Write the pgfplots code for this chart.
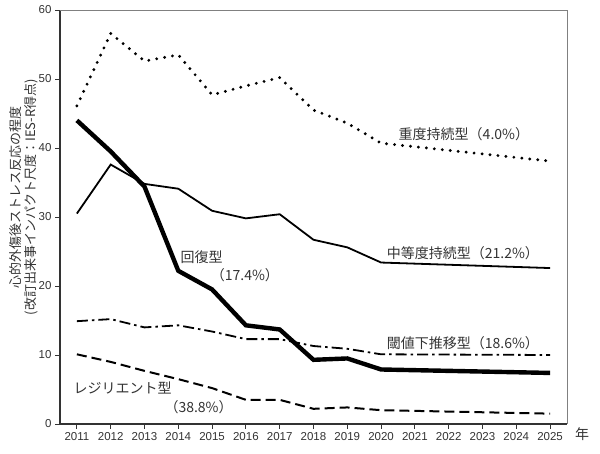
\documentclass[border=0pt]{standalone}
\usepackage{fontspec}
\setmainfont{Liberation Sans}
\newfontfamily\jp{Noto Sans CJK JP}
\usepackage{pgfplots}
\pgfplotsset{compat=1.18}
\definecolor{axgray}{HTML}{333333}
\definecolor{frgray}{HTML}{808080}
\begin{document}
\begin{tikzpicture}
\path[use as bounding box] (-60pt,-30pt) rectangle (540pt,424pt);
\begin{axis}[
  at={(0,0)}, anchor=south west,
  scale only axis, width=507pt, height=414pt,
  xmin=2010.5, xmax=2025.5, ymin=0, ymax=60,
  axis x line*=bottom, axis y line*=left,
  axis line style={axgray, line width=1.1pt},
  xtick={2011,2012,...,2025}, ytick={0,10,...,60},
  tick align=outside, major tick length=5pt,
  tick style={axgray, line width=0.9pt},
  /pgf/number format/.cd, 1000 sep={}, assume math mode=true, /pgfplots/.cd,
  tick label style={font=\fontsize{11.5}{13}\selectfont, text=axgray},
  ylabel={{\jp 心的外傷後ストレス反応の程度}\\{\jp (改訂出来事インパクト尺度：IES-R得点)}},
  ylabel style={at={(rel axis cs:-0.071,0.548)}, anchor=center, rotate=0, align=center,
    font=\fontsize{13}{15.5}\selectfont, text=axgray},
  clip=false,
]
\draw[frgray, line width=0.8pt] (rel axis cs:0,1) -- (rel axis cs:1,1) -- (rel axis cs:1,0);
% 重度持続型
\addplot[black, line width=3.2pt, line cap=round, dash pattern=on 0pt off 8pt] coordinates {
 (2011,46.1) (2012,56.6) (2013,52.6) (2014,53.5) (2015,47.7) (2016,49.0) (2017,50.2)
 (2018,45.5) (2019,43.6) (2020,40.7) (2025,38.1)};
% 中等度持続型
\addplot[black, line width=1.8pt] coordinates {
 (2011,30.5) (2012,37.6) (2013,34.8) (2014,34.1) (2015,30.9) (2016,29.8) (2017,30.4)
 (2018,26.7) (2019,25.6) (2020,23.4) (2025,22.6)};
% 回復型
\addplot[black, line width=4.4pt] coordinates {
 (2011,44.0) (2012,39.5) (2013,34.4) (2014,22.2) (2015,19.5) (2016,14.3) (2017,13.7)
 (2018,9.3) (2019,9.5) (2020,7.9) (2025,7.4)};
% 閾値下推移型
\addplot[black, line width=1.8pt, dash pattern=on 11pt off 4pt on 2.5pt off 4pt] coordinates {
 (2011,14.9) (2012,15.2) (2013,14.0) (2014,14.3) (2015,13.4) (2016,12.3) (2017,12.3)
 (2018,11.3) (2019,10.9) (2020,10.1) (2025,10.0)};
% レジリエント型
\addplot[black, line width=2pt, dash pattern=on 10pt off 5pt] coordinates {
 (2011,10.1) (2012,9.0) (2013,7.7) (2014,6.5) (2015,5.2) (2016,3.5) (2017,3.5)
 (2018,2.2) (2019,2.4) (2020,2.0) (2025,1.5)};
\begin{scope}[every node/.style={font=\jp\fontsize{14}{16}\selectfont, text=axgray, inner sep=0pt}]
\node at (axis cs:2022.45,42.0) {重度持続型（4.0\%）};
\node at (axis cs:2022.42,24.7) {中等度持続型（21.2\%）};
\node at (axis cs:2022.42,11.7) {閾値下推移型（18.6\%）};
\node at (axis cs:2014.69,24.2) {回復型};
\node at (axis cs:2015.97,21.5) {（17.4\%）};
\node at (axis cs:2012.35,5.2) {レジリエント型};
\node at (axis cs:2014.6,2.5) {（38.8\%）};
\node at (axis cs:2025.95,-1.5) {年};
\end{scope}
\end{axis}
\end{tikzpicture}
\end{document}
